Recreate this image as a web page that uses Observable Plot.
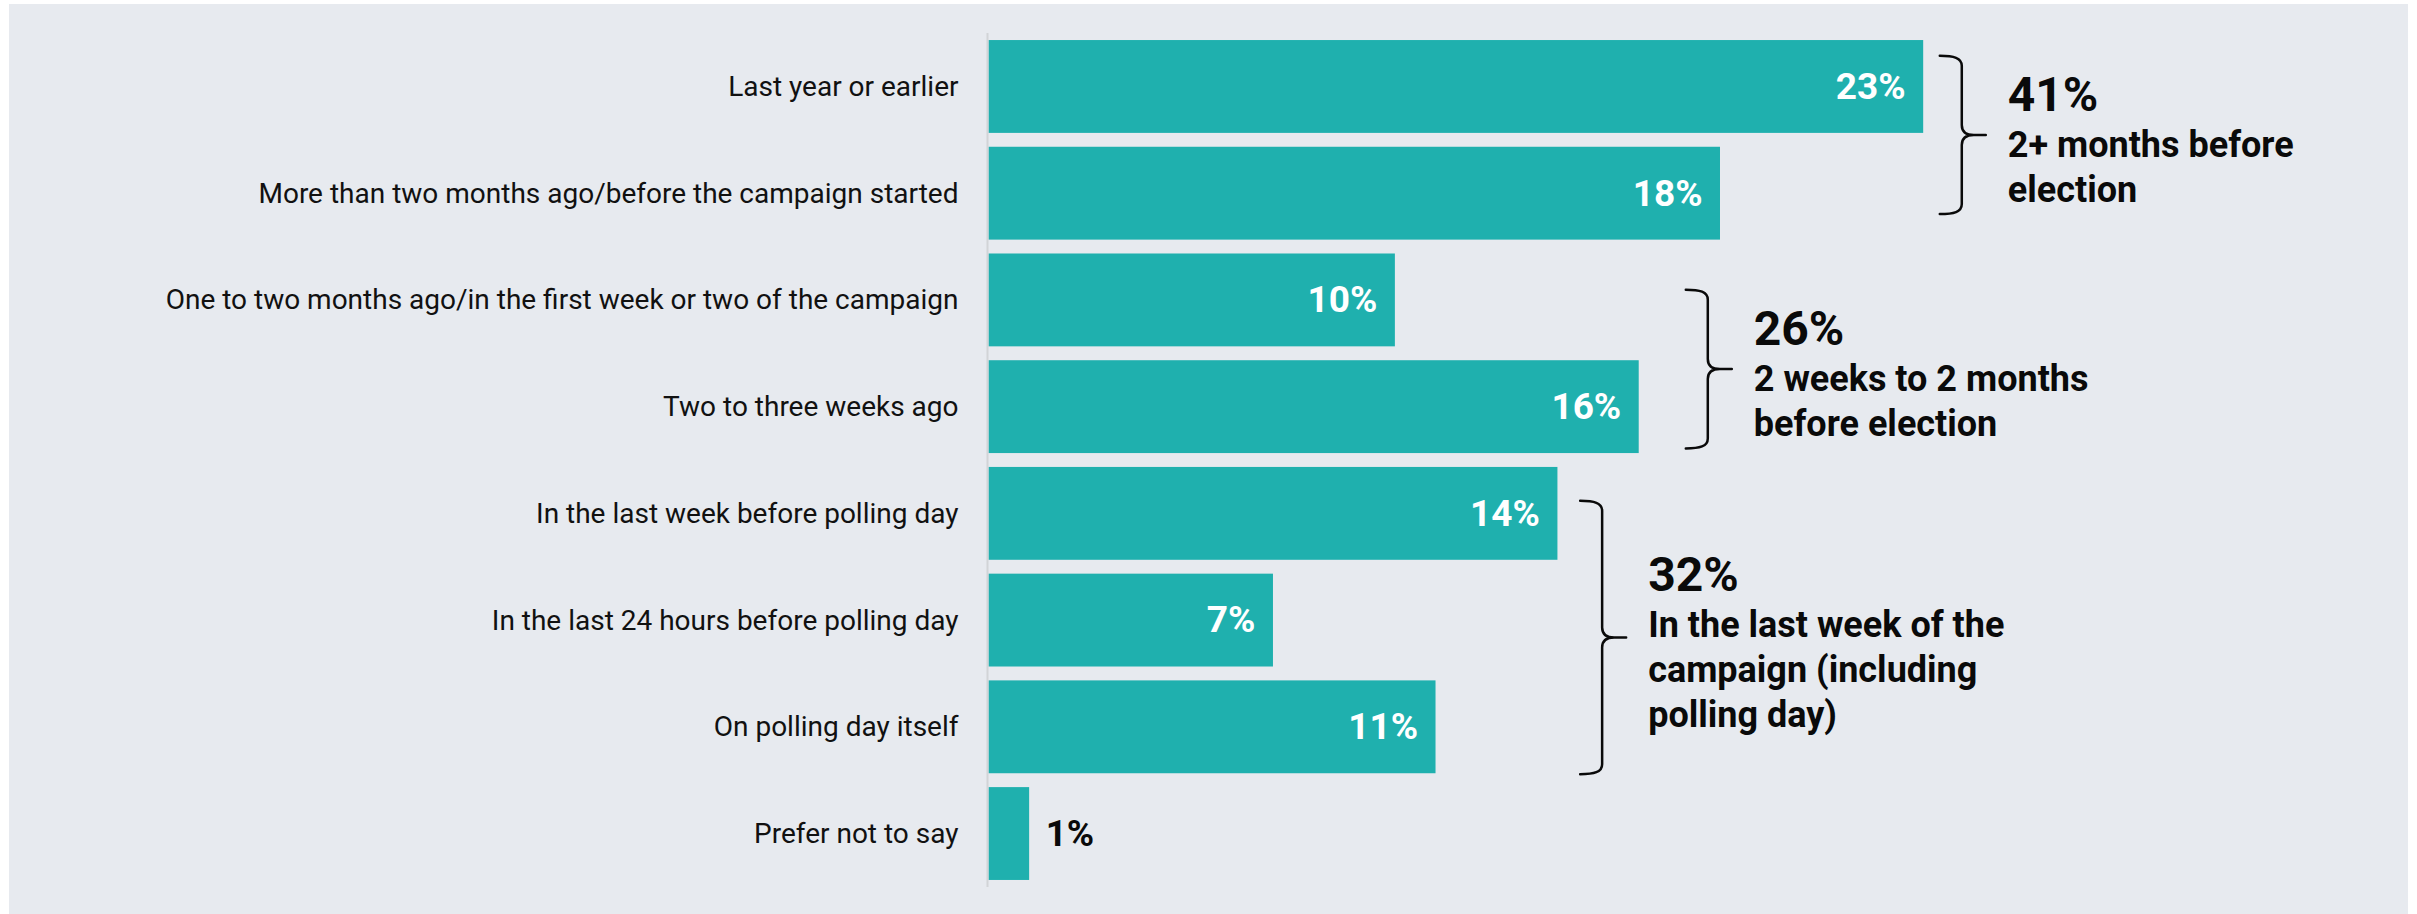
<!DOCTYPE html>
<html>
<head>
<meta charset="utf-8">
<script src="https://cdn.jsdelivr.net/npm/d3@7"></script>
<script src="https://cdn.jsdelivr.net/npm/@observablehq/plot@0.6"></script>
<style>
  html, body { margin: 0; padding: 0; background: #ffffff; }
  #wrap { position: relative; width: 2417px; height: 914px; overflow: hidden; }
  #panel { position: absolute; left: 9px; top: 4px; width: 2399px; height: 910px; background: #e7eaef; }
  #chart { position: absolute; left: 0; top: 0; }
</style>
</head>
<body>
<div id="wrap"><div id="panel"></div><div id="chart"></div></div>
<script>
// ---- data ----
const categories = [
  "Last year or earlier",
  "More than two months ago/before the campaign started",
  "One to two months ago/in the first week or two of the campaign",
  "Two to three weeks ago",
  "In the last week before polling day",
  "In the last 24 hours before polling day",
  "On polling day itself",
  "Prefer not to say"
];
const values = [23, 18, 10, 16, 14, 7, 11, 1];

const groupTotals = ["41%", "26%", "32%"];
const groupLabels = [
  "2+ months before\nelection",
  "2 weeks to 2 months\nbefore election",
  "In the last week of the\ncampaign (including\npolling day)"
];
const groupFirst = [categories[0], categories[2], categories[4]];
const groupLast = [categories[1], categories[3], categories[6]];
const groupBracketX = [23.95, 17.7, 15.1];   // in % units (x scale)

// ---- layout / style (not data) ----
const bracketTopFrac = [0.17, 0.39, 0.365];
const bracketBottomFrac = [0.725, 0.95, 1.01];
const teal = "#1fb0ae";
const font = "Roboto, 'Noto Sans', sans-serif";

const rows = categories.map((c, i) => ({category: c, value: values[i]}));

const chart = Plot.plot({
  width: 2417,
  height: 914,
  marginLeft: 988.5,
  marginRight: 46.8,
  marginTop: 33,
  marginBottom: 27,
  style: {fontFamily: font, background: "transparent", overflow: "visible", color: "#111"},
  x: {domain: [0, 34], axis: null},
  y: {domain: categories, paddingInner: 0.13, paddingOuter: 0.066, round: false, label: null, axis: null},
  marks: [
    Plot.axisY({tickSize: 0, tickPadding: 30.5, fontSize: 28, label: null, fill: "#111"}),
    Plot.barX(rows, {x: "value", y: "category", fill: teal}),
    Plot.ruleX([0], {stroke: "#d2d4d7", strokeWidth: 2, dx: -1.5}),
    Plot.text(rows.filter(d => d.value >= 3), {
      x: "value", y: "category", text: d => `${d.value}%`,
      textAnchor: "end", dx: -18, fill: "white", fontWeight: 700, fontSize: 37
    }),
    Plot.text(rows.filter(d => d.value < 3), {
      x: "value", y: "category", text: d => `${d.value}%`,
      textAnchor: "start", dx: 16, fill: "#0a0a0a", fontWeight: 700, fontSize: 37
    })
  ]
});
document.getElementById("chart").appendChild(chart);

// ---- brackets & group annotations, positioned through Plot's scales ----
const sx = chart.scale("x");
const sy = chart.scale("y");
const bw = sy.bandwidth;
const svg = d3.select(chart);
const g = svg.append("g").attr("font-family", font).attr("text-anchor", "start");

groupTotals.forEach((total, i) => {
  const x = sx.apply(groupBracketX[i]);
  const top = sy.apply(groupFirst[i]) + bracketTopFrac[i] * bw;
  const bot = sy.apply(groupLast[i]) + bracketBottomFrac[i] * bw;
  const mid = (top + bot) / 2;
  const path = [
    `M${x - 22},${top}`,
    `C${x - 8},${top} ${x},${top + 2} ${x},${top + 10}`,
    `L${x},${mid - 10}`,
    `C${x},${mid - 3} ${x + 4},${mid} ${x + 12},${mid}`,
    `L${x + 24},${mid}`,
    `M${x + 12},${mid}`,
    `C${x + 4},${mid} ${x},${mid + 3} ${x},${mid + 10}`,
    `L${x},${bot - 10}`,
    `C${x},${bot - 2} ${x - 8},${bot} ${x - 22},${bot}`
  ].join(" ");
  g.append("path").attr("d", path).attr("fill", "none")
    .attr("stroke", "#0a0a0a").attr("stroke-width", 2.5).attr("stroke-linecap", "round");

  const lines = groupLabels[i].split("\n");
  const n = lines.length;
  const bb = mid - 24 - (n - 2) * 22.5;
  const tx = x + 46;
  g.append("text").attr("x", tx).attr("y", bb).attr("text-anchor", "start")
    .attr("font-size", 48).attr("font-weight", 700).attr("fill", "#0a0a0a").text(total);
  lines.forEach((ln, k) => {
    g.append("text").attr("x", tx).attr("y", bb + 46 + k * 45).attr("text-anchor", "start")
      .attr("font-size", 36).attr("font-weight", 700).attr("fill", "#0a0a0a").text(ln);
  });
});
</script>
</body>
</html>
